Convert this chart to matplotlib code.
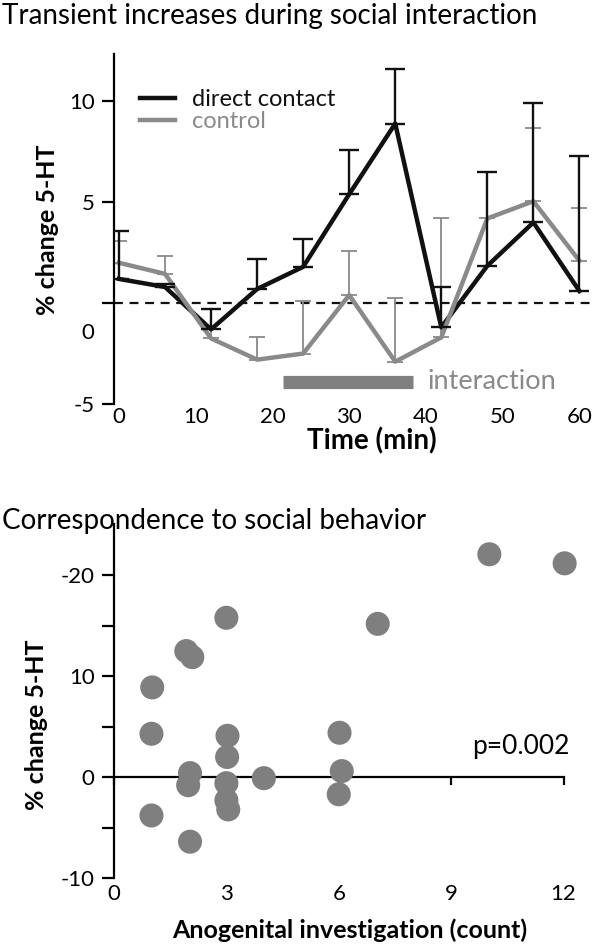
import matplotlib
matplotlib.use("Agg")
import matplotlib.pyplot as plt

plt.rcParams['font.family'] = ['Lato', 'DejaVu Sans']

# --- top panel data ---
times = [0, 6, 12, 18, 24, 30, 36, 42, 48, 54, 60]
direct = [1.2, 0.8, -1.3, 0.7, 1.8, 5.4, 8.9, -1.2, 1.85, 4.0, 0.6]
direct_err = [2.4, 0.15, 1.0, 1.5, 1.4, 2.2, 2.7, 2.0, 4.65, 5.9, 6.7]
control = [2.0, 1.45, -1.75, -2.8, -2.5, 0.4, -2.9, -1.7, 4.2, 5.05, 2.1]
control_err = [1.1, 0.9, 1.45, 1.1, 2.6, 2.2, 3.15, 5.9, 2.3, 3.65, 2.6]
interaction_window = [21.4, 38.3]
interaction_level = -3.9

# --- bottom panel data ---
anogenital = [1.02, 1.0, 1.0, 1.93, 2.09, 2.03, 1.98, 2.03, 3.0, 3.03, 3.02,
              3.0, 3.0, 3.05, 4.0, 6.02, 6.08, 6.0, 7.04, 10.02, 12.03]
change_5ht = [8.9, 4.3, -3.8, 12.5, 11.9, 0.4, -0.8, -6.4, 15.8, 4.1, 2.0,
              -0.6, -2.3, -3.2, -0.1, 4.4, 0.6, -1.7, 15.2, 22.1, 21.2]

BLACK = '#111111'
GRAY = '#8a8a8a'
DOT = '#7f7f7f'

W, H = 597, 946
fig = plt.figure(figsize=(W / 100, H / 100), dpi=100)

# ---------------- top panel ----------------
ax = fig.add_axes([114 / W, 1 - 404 / H, 480 / W, 350 / H])
ax.set_xlim(-0.65, 61.9)
ax.set_ylim(-5, 12.35)

ax.axhline(0, color=BLACK, lw=1.6, ls=(0, (4, 3)), zorder=1)
ax.plot(times, direct, color=BLACK, lw=3.2, zorder=3, label='direct contact')
ax.plot(times, control, color=GRAY, lw=3.2, zorder=4, label='control')
ax.errorbar(times, direct, yerr=[[0] * len(direct), direct_err], fmt='none',
            ecolor=BLACK, elinewidth=1.7, capsize=7, capthick=1.7, zorder=5)
ax.errorbar(times, control, yerr=[[0] * len(control), control_err], fmt='none',
            ecolor=GRAY, elinewidth=1.3, capsize=5.5, capthick=1.3, zorder=2)

ax.plot(interaction_window, [interaction_level] * 2, color='#808080', lw=9.5,
        solid_capstyle='butt', zorder=2)
ax.text(interaction_window[1] + 1.9, interaction_level, 'interaction', color=GRAY,
        fontsize=19.5, va='center', ha='left')

leg = ax.legend(loc='upper left', bbox_to_anchor=(0.055, 0.90), frameon=False,
                fontsize=17, handlelength=1.45, handletextpad=0.72, labelspacing=0.04,
                borderaxespad=0, borderpad=0)
for txt, c in zip(leg.get_texts(), [BLACK, GRAY]):
    txt.set_color(c)

for s in ['top', 'right', 'bottom']:
    ax.spines[s].set_visible(False)
ax.spines['left'].set_linewidth(1.6)
ax.set_xticks([0, 10, 20, 30, 40, 50, 60])
ax.tick_params(axis='x', length=0, pad=2, labelsize=16)
ax.set_yticks([-5, -1.4, 5, 10])
ax.set_yticklabels(['-5', '0', '5', '10'])
ax.set_yticks([0], minor=True)
ax.tick_params(axis='y', which='both', length=9, width=1.6, labelsize=16, pad=5)
ax.yaxis.get_major_ticks()[1].tick1line.set_visible(False)

fig.text(2 / W, 1 - 16 / H, 'Transient increases during social interaction',
         fontsize=20, va='center', ha='left')
fig.text(48 / W, 1 - 230 / H, '% change 5-HT', rotation=90, fontsize=18,
         fontweight='bold', va='center', ha='center')
fig.text(372 / W, 1 - 441 / H, 'Time (min)', fontsize=20, fontweight='bold',
         va='center', ha='center')

# ---------------- bottom panel ----------------
bx = fig.add_axes([114 / W, 1 - 878 / H, 472 / W, 354 / H])
bx.set_xlim(0, 12.6)
bx.set_ylim(-10, 25.1)
bx.scatter(anogenital, change_5ht, s=300, color=DOT, edgecolors='none', zorder=3)

for s in ['top', 'right']:
    bx.spines[s].set_visible(False)
bx.spines['left'].set_linewidth(1.6)
bx.spines['bottom'].set_linewidth(1.6)
bx.spines['bottom'].set_position(('data', 0))
bx.spines['bottom'].set_bounds(0, 12)
bx.set_xticks([0, 3, 6, 9, 12])
bx.tick_params(axis='x', length=6, width=1.6, labelsize=16, pad=71)
bx.set_yticks([-10, -5, 0, 5, 10, 15, 20])
bx.set_yticklabels(['-10', '', '0', '', '10', '', '-20'])
bx.tick_params(axis='y', length=9, width=1.6, labelsize=16, pad=5)
bx.text(9.55, 3.05, 'p=0.002', fontsize=19, va='center', ha='left')

fig.text(2 / W, 1 - 521 / H, 'Correspondence to social behavior',
         fontsize=20, va='center', ha='left')
fig.text(37 / W, 1 - 725 / H, '% change 5-HT', rotation=90, fontsize=18,
         fontweight='bold', va='center', ha='center')
fig.text(350 / W, 1 - 930 / H, 'Anogenital investigation (count)', fontsize=18,
         fontweight='bold', va='center', ha='center')

fig.savefig('out.png', dpi=100)
